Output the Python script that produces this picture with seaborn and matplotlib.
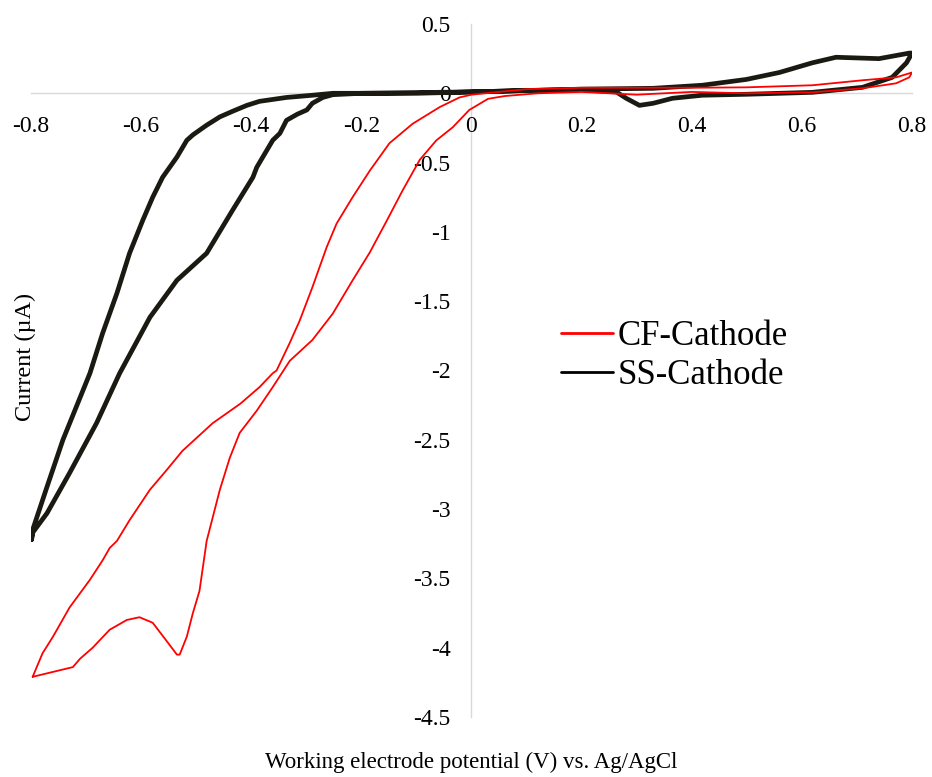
import matplotlib
matplotlib.use("Agg")
import matplotlib.pyplot as plt
import seaborn as sns
import pandas as pd
from matplotlib.lines import Line2D
from matplotlib.ticker import FixedLocator, FixedFormatter

# ---------------- data ----------------
ss_v = [-0.799, -0.797, -0.771, -0.730, -0.681, -0.639, -0.584, -0.535, -0.481, -0.434,
        -0.397, -0.390, -0.361, -0.348, -0.336, -0.316, -0.299, -0.289, -0.270, -0.252,
        -0.20, -0.10, 0.00, 0.10, 0.20, 0.263, 0.281, 0.305, 0.330, 0.365, 0.419,
        0.50, 0.619, 0.71, 0.764, 0.79, 0.80,
        0.795, 0.74, 0.662, 0.619, 0.559, 0.499, 0.419, 0.33, 0.20, 0.10, 0.00,
        -0.10, -0.20, -0.252, -0.289, -0.336, -0.385, -0.408, -0.434, -0.457, -0.481,
        -0.506, -0.517, -0.535, -0.561, -0.579, -0.597, -0.621, -0.644, -0.670, -0.693,
        -0.742, -0.771, -0.797, -0.799]
ss_i = [-3.22, -3.17, -3.03, -2.74, -2.38, -2.02, -1.616, -1.349, -1.154, -0.844,
        -0.606, -0.534, -0.339, -0.289, -0.195, -0.15, -0.12, -0.072, -0.03, -0.01,
        0.0, 0.005, 0.01, 0.02, 0.025, 0.01, -0.036, -0.087, -0.072, -0.036, -0.014,
        -0.007, 0.007, 0.043, 0.115, 0.22, 0.29,
        0.29, 0.25, 0.26, 0.22, 0.15, 0.10, 0.058, 0.036, 0.03, 0.02, 0.01,
        0.0, 0.0, 0.0, -0.014, -0.03, -0.058, -0.087, -0.13, -0.17, -0.23,
        -0.30, -0.339, -0.46, -0.606, -0.75, -0.916, -1.154, -1.443, -1.732, -2.02,
        -2.50, -2.84, -3.15, -3.22]

cf_v = [-0.797, -0.779, -0.760, -0.730, -0.693, -0.670, -0.657, -0.644, -0.621, -0.584,
        -0.554, -0.525, -0.470, -0.420, -0.385, -0.361, -0.354, -0.330, -0.312, -0.289,
        -0.263, -0.245, -0.216, -0.185, -0.149, -0.107, -0.058, -0.022, 0.0,
        0.10, 0.20, 0.30, 0.40, 0.499, 0.619, 0.71, 0.771, 0.795, 0.80,
        0.795, 0.771, 0.71, 0.619, 0.499, 0.40, 0.30, 0.20, 0.12, 0.06, 0.03,
        -0.004, -0.034, -0.064, -0.094, -0.125, -0.154, -0.185, -0.216, -0.252,
        -0.289, -0.330, -0.361, -0.390, -0.421, -0.439, -0.457, -0.481, -0.494,
        -0.506, -0.517, -0.530, -0.535, -0.554, -0.579, -0.603, -0.626, -0.657,
        -0.688, -0.711, -0.724, -0.797]
cf_i = [-4.21, -4.04, -3.92, -3.71, -3.51, -3.37, -3.28, -3.23, -3.08, -2.86,
        -2.72, -2.58, -2.38, -2.24, -2.12, -2.02, -2.00, -1.80, -1.64, -1.40,
        -1.11, -0.94, -0.75, -0.56, -0.36, -0.22, -0.10, -0.03, -0.01,
        0.03, 0.04, 0.04, 0.04, 0.043, 0.058, 0.094, 0.115, 0.144, 0.15,
        0.115, 0.072, 0.036, 0.007, 0.0, 0.01, -0.01, 0.01, 0.0, -0.02, -0.04,
        -0.12, -0.245, -0.34, -0.48, -0.70, -0.92, -1.15, -1.35, -1.59,
        -1.78, -1.93, -2.12, -2.29, -2.45, -2.63, -2.86, -3.23, -3.59,
        -3.75, -3.92, -4.05, -4.05, -3.95, -3.82, -3.78, -3.80, -3.87,
        -4.00, -4.08, -4.14, -4.21]

series_names = ["CF-Cathode", "SS-Cathode"]
x_ticks = [-0.8, -0.6, -0.4, -0.2, 0.0, 0.2, 0.4, 0.6, 0.8]
x_tick_labels = ["-0.8", "-0.6", "-0.4", "-0.2", "0", "0.2", "0.4", "0.6", "0.8"]
y_ticks = [0.5, 0.0, -0.5, -1.0, -1.5, -2.0, -2.5, -3.0, -3.5, -4.0, -4.5]
y_tick_labels = ["0.5", "0", "-0.5", "-1", "-1.5", "-2", "-2.5", "-3", "-3.5", "-4", "-4.5"]

# ---------------- styling ----------------
sns.set_theme(style="white")
plt.rcParams["font.family"] = ["Liberation Serif", "DejaVu Serif"]
plt.rcParams["axes.unicode_minus"] = False
plt.rcParams["text.color"] = "black"
plt.rcParams["axes.labelcolor"] = "black"

RED = "#ff0000"
BLACK = "#1b1a12"
AXIS = "#d9d9d9"

fig = plt.figure(figsize=(9.32, 7.77), dpi=100)
ax = fig.add_axes([31 / 932, 1 - 717 / 777, (912 - 31) / 932, (717 - 24) / 777])

df_cf = pd.DataFrame({"V": cf_v, "I": cf_i})
df_ss = pd.DataFrame({"V": ss_v, "I": ss_i})

sns.lineplot(data=df_ss, x="V", y="I", sort=False, estimator=None, ax=ax,
             color=BLACK, linewidth=3.4, legend=False)
sns.lineplot(data=df_cf, x="V", y="I", sort=False, estimator=None, ax=ax,
             color=RED, linewidth=1.3, legend=False)

ax.set_xlim(-0.8, 0.8)
ax.set_ylim(-4.5, 0.5)

for s in ["top", "right"]:
    ax.spines[s].set_visible(False)
for s in ["left", "bottom"]:
    ax.spines[s].set_position(("data", 0))
    ax.spines[s].set_color(AXIS)
    ax.spines[s].set_linewidth(1.0)
    ax.spines[s].set_zorder(0)

ax.xaxis.set_major_locator(FixedLocator(x_ticks))
ax.xaxis.set_major_formatter(FixedFormatter(x_tick_labels))
ax.yaxis.set_major_locator(FixedLocator(y_ticks))
ax.yaxis.set_major_formatter(FixedFormatter(y_tick_labels))
ax.tick_params(axis="x", length=0, pad=16, labelsize=17, colors="black")
ax.tick_params(axis="y", length=0, pad=15, labelsize=17, colors="black")
ax.grid(False)

ax.set_xlabel("Working electrode potential (V) vs. Ag/AgCl", fontsize=16.5, color="black")
ax.xaxis.set_label_coords(0.5, -0.05)
ax.set_ylabel("Current (\u00b5A)", fontsize=17.5, color="black")
ax.yaxis.set_label_coords(0.006, 0.519)

handles = [Line2D([0], [0], color=RED, lw=2.0), Line2D([0], [0], color="black", lw=2.0)]
leg = ax.legend(handles, series_names, loc="upper left",
                bbox_to_anchor=(561 / 932, 1 - 320 / 777), bbox_transform=fig.transFigure,
                frameon=False, fontsize=25, handlelength=1.5, handletextpad=0.12,
                labelspacing=0.18, borderpad=0.0, borderaxespad=0.0)
for t in leg.get_texts():
    t.set_color("black")

fig.savefig("out.png", dpi=100)
